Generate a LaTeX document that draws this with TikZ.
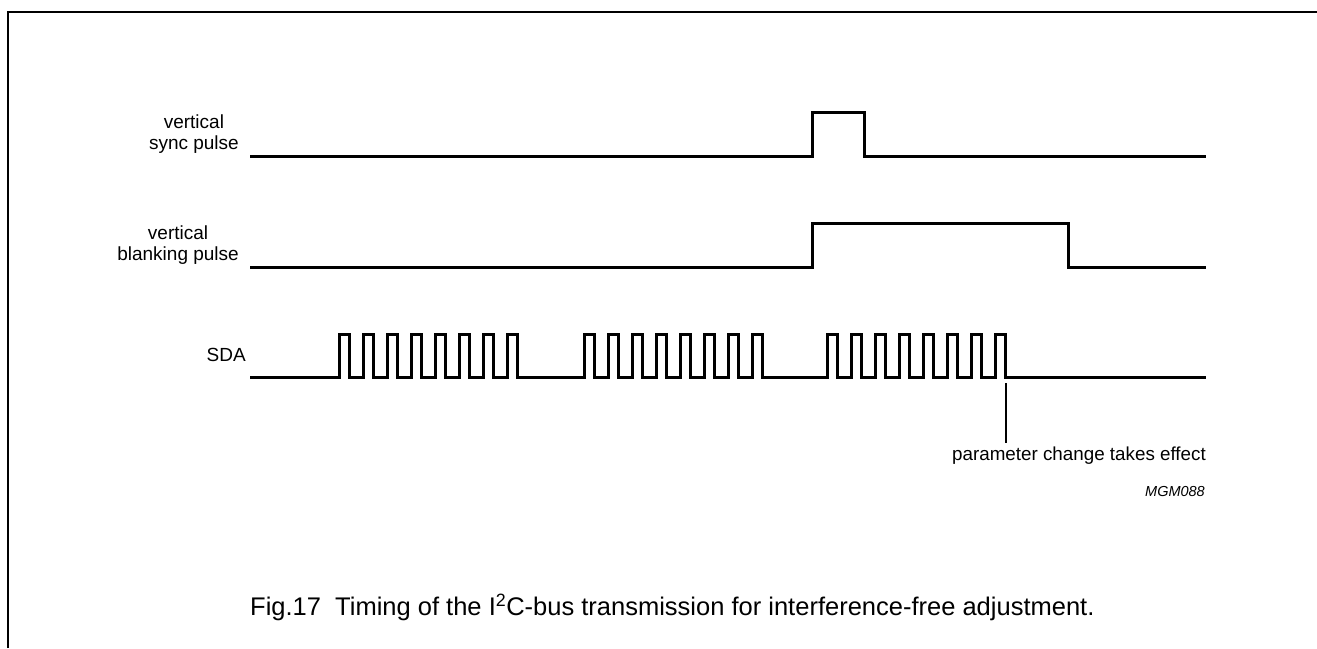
\documentclass[tikz,border=0pt]{standalone}
\usepackage{fontspec}
\setmainfont{Liberation Sans}
\usetikzlibrary{positioning}

\begin{document}
\begin{tikzpicture}[x=1pt,y=-1pt,inner sep=0pt,
  wave/.style={line width=3pt,line join=miter},
  frame/.style={line width=2pt},
  lbl/.style={anchor=east,align=center,font=\fontsize{19}{21}\selectfont},
  note/.style={font=\fontsize{18.8}{21}\selectfont}]
\useasboundingbox (0,0) rectangle (1317,648);
\draw[frame] (8,648) -- (8,12) -- (1317,12);

% signal labels
\node[lbl] (sync) at (239,134.5) {vertical\\sync pulse};
\node[lbl] (blank) at (239,245.5) {vertical\\blanking pulse};
\node[lbl] (sda) at (246,355) {SDA};

% vertical sync pulse
\draw[wave] (250,156) -- (812,156) -- (812,112) -- (864,112) -- (864,156) -- (1206,156);

% vertical blanking pulse
\draw[wave] (250,267) -- (812,267) -- (812,223) -- (1068,223) -- (1068,267) -- (1206,267);

% SDA, three bytes
\draw[wave] (250,377)
  foreach \g in {339,584,827} {
    foreach \k in {0,...,7} {
      -- ({\g+24*\k},377) -- ({\g+24*\k},334) -- ({\g+24*\k+10},334) -- ({\g+24*\k+10},377)
    }
  } -- (1206,377);

\coordinate (tick) at (1006,383);
\node[note,anchor=east] (chg) at (1206,456) {parameter change takes effect};
\draw[line width=1.2pt] (tick) -- ([yshift=4pt]tick |- chg.north);

\node[anchor=east,font=\fontsize{14.5}{16}\selectfont\itshape] (code) at (1205,492) {MGM088};

\node[anchor=west,font=\fontsize{25.5}{28}\selectfont] (cap) at (250,607)
  {Fig.17\ \ Timing of the I\textsuperscript{2}C-bus transmission for interference-free adjustment.};
\end{tikzpicture}
\end{document}
